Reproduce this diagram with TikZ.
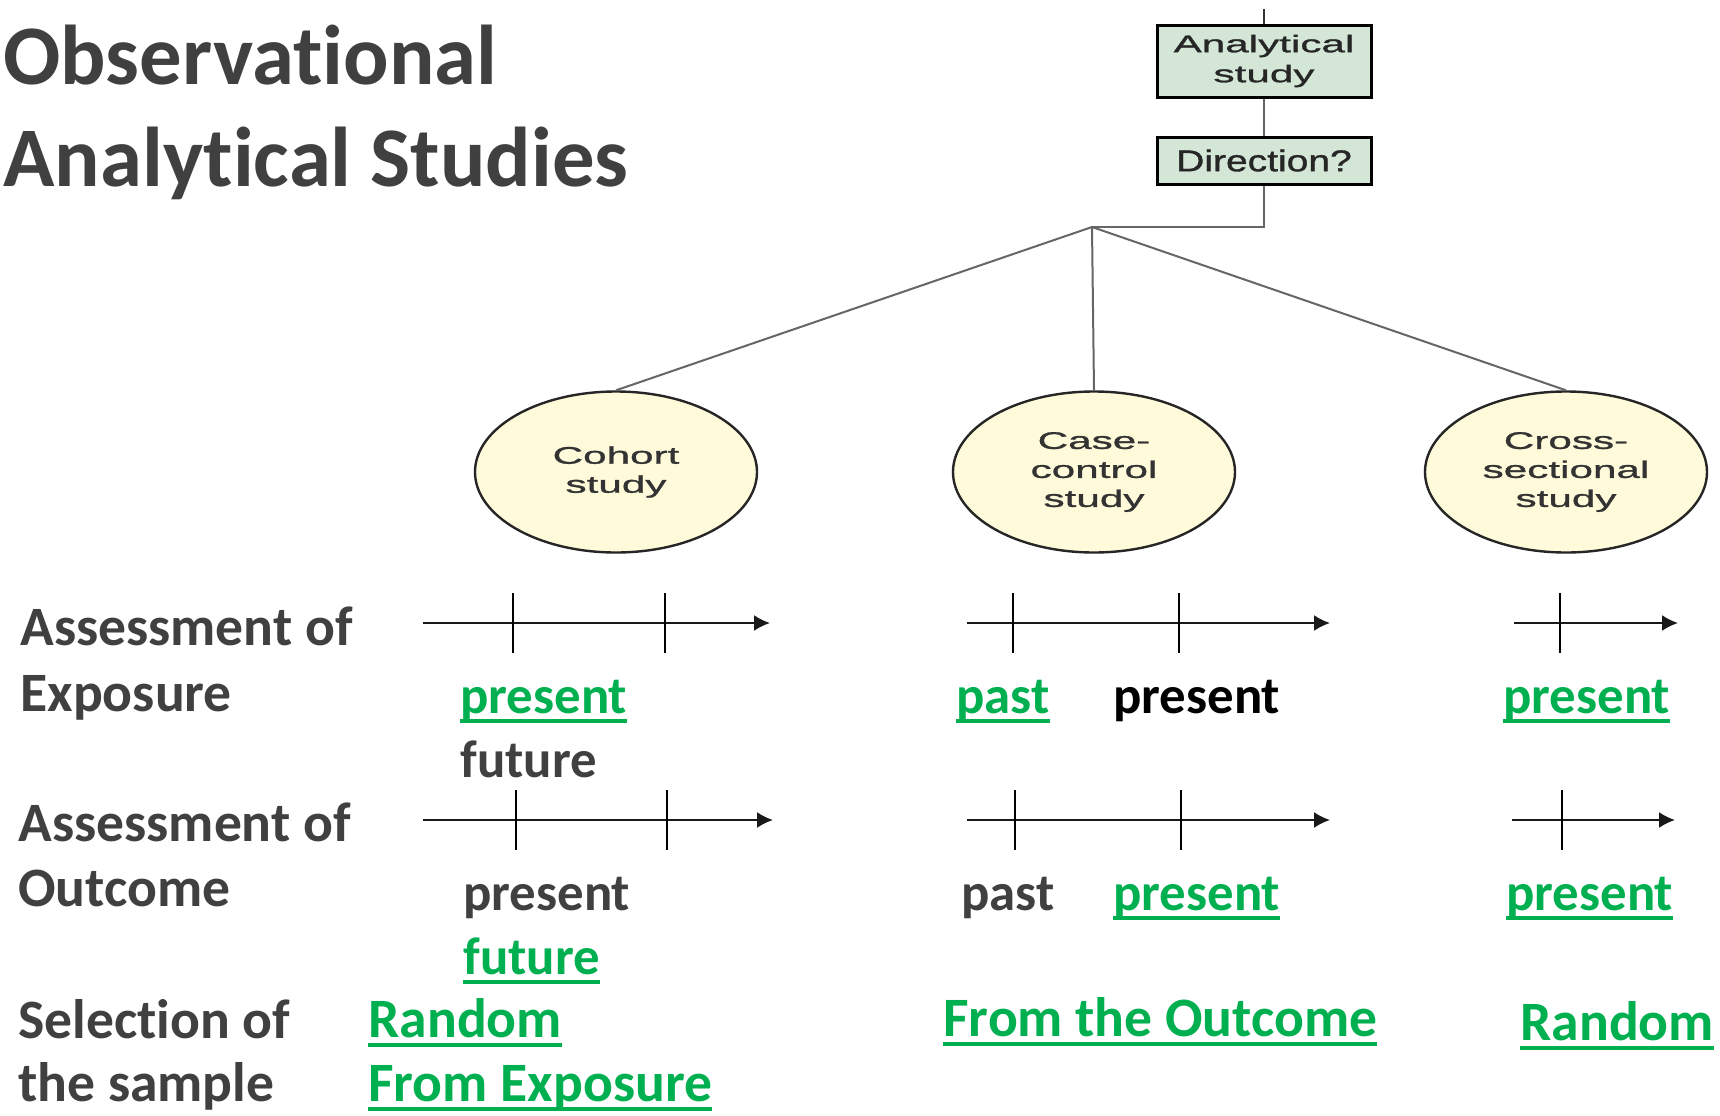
\documentclass[tikz,border=0pt]{standalone}
\usepackage{fontspec}
\usetikzlibrary{arrows.meta,shapes.geometric}
\setmainfont[Ligatures=NoCommon]{Carlito}
\newfontfamily\studyfont[FakeStretch=1.76,FakeBold=1.2]{Liberation Sans}
\newfontfamily\askfont[FakeStretch=1.3,FakeBold=1.2]{Liberation Sans}
\definecolor{labelgray}{HTML}{404040}
\definecolor{keygreen}{HTML}{00B050}
\definecolor{boxgreen}{HTML}{D4E7D7}
\definecolor{studyfill}{HTML}{FFFBDA}
\definecolor{linkgray}{HTML}{666666}
\newsavebox{\keybox}
\newcommand{\keyword}[1]{\sbox{\keybox}{#1}\rlap{\rule[-5pt]{\wd\keybox}{2pt}}\usebox{\keybox}}

\def\tickh{30}
\def\rowa{623}
\def\rowb{820}

\begin{document}
\begin{tikzpicture}[x=0.5pt,y=-0.5pt,
  heading/.style={anchor=base west,inner sep=0pt,text=labelgray,font=\bfseries\fontsize{42.4}{51}\selectfont},
  rowlabel/.style={anchor=base west,inner sep=0pt,text=labelgray,font=\bfseries\fontsize{27.8}{33}\selectfont},
  timeword/.style={anchor=base west,inner sep=0pt,text=labelgray,font=\bfseries\fontsize{26.4}{32}\selectfont},
  keytime/.style={timeword,text=keygreen},
  keysample/.style={rowlabel,text=keygreen},
  qbox/.style={draw=black,line width=1.5pt,fill=boxgreen,minimum width=107pt,align=center,inner sep=0pt,text=black!85},
  study/.style={ellipse,draw=black!85,line width=1.2pt,fill=studyfill,minimum width=141pt,minimum height=80.5pt,align=center,inner sep=0pt,text=black!80,font=\studyfont\fontsize{12}{14.5}\selectfont},
  link/.style={draw=linkgray,line width=1pt},
  axis/.style={draw=black!90,line width=1pt,-{Latex[length=8pt,width=8pt]}},
  tick/.style={draw=black,line width=1pt}]
\path[use as bounding box,fill=white] (0,0) rectangle (1720,1115);

% title
\node[heading] (title1) at (3,84) {Observational};
\node[heading] (title2) at (3,186) {Analytical Studies};

% decision tree
\node[qbox,minimum height=36pt,font=\studyfont\fontsize{12}{15}\selectfont] (analytic) at (1264,61) {Analytical\\study};
\node[qbox,minimum height=23.5pt,font=\askfont\fontsize{15}{18}\selectfont] (direction) at (1264,160.5) {Direction?};
\node[study] (cohort) at (616,472) {Cohort\\study};
\node[study] (casecontrol) at (1094,472) {Case-\\control\\study};
\node[study] (crosssec) at (1566,472) {Cross-\\sectional\\study};
\coordinate (top) at (1264,9);
\coordinate (split) at (1092,227);
\draw[link,draw=black!80] (top) -- (analytic);
\draw[link] (analytic) -- (direction);
\draw[link] (direction.south) |- (split);
\draw[link] (split) -- (cohort.north);
\draw[link] (split) -- (casecontrol.north);
\draw[link] (split) -- (crosssec.north);

% row labels
\node[rowlabel] (expo1) at (20,645) {Assessment of};
\node[rowlabel] (expo2) at (20,711) {Exposure};
\node[rowlabel] (outc1) at (18,841) {Assessment of};
\node[rowlabel] (outc2) at (18,906) {Outcome};
\node[rowlabel] (samp1) at (18,1038) {Selection of};
\node[rowlabel] (samp2) at (18,1101) {the sample};

% time axes
\foreach \ax/\y/\xa/\xb in {coh1/\rowa/423/770, coh2/\rowb/423/773, cas1/\rowa/967/1330, cas2/\rowb/967/1330, crs1/\rowa/1514/1678, crs2/\rowb/1512/1675}{
  \coordinate (\ax s) at (\xa,\y);
  \coordinate (\ax e) at (\xb,\y);
  \draw[axis] (\ax s) -- (\ax e);
}
\foreach \tx/\ty in {513/\rowa,665/\rowa,516/\rowb,667/\rowb,1013/\rowa,1179/\rowa,1015/\rowb,1181/\rowb,1560/\rowa,1562/\rowb}
  \draw[tick] (\tx,\ty-\tickh) -- (\tx,\ty+\tickh);

% exposure
\node[keytime] (cohexpA) at (460,713) {\keyword{present}};
\node[timeword] (cohexpB) at (460,777) {future};
\node[keytime] (casexpA) at (956,713) {\keyword{past}};
\node[timeword,text=black] (casexpB) at (1113,713) {present};
\node[keytime] (crsexp) at (1503,713) {\keyword{present}};

% outcome
\node[timeword] (cohoutA) at (463,910) {present};
\node[keytime] (cohoutB) at (463,974) {\keyword{future}};
\node[timeword] (casoutA) at (961,910) {past};
\node[keytime] (casoutB) at (1113,910) {\keyword{present}};
\node[keytime] (crsout) at (1506,910) {\keyword{present}};

% sample
\node[keysample] (cohsampA) at (368,1037) {\keyword{Random}};
\node[keysample] (cohsampB) at (368,1101) {\keyword{From Exposure}};
\node[keysample] (cassamp) at (943,1036) {\keyword{From the Outcome}};
\node[keysample] (crssamp) at (1520,1040) {\keyword{Random}};
\end{tikzpicture}
\end{document}
